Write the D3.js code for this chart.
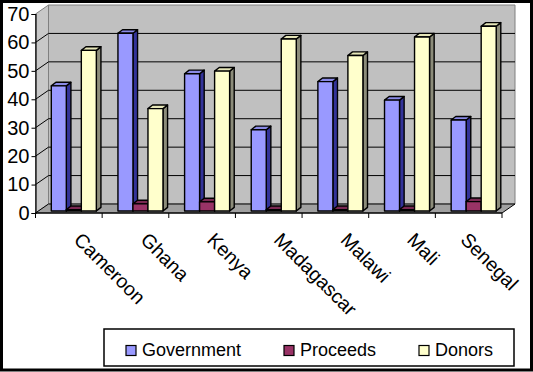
<!DOCTYPE html>
<html>
<head>
<meta charset="utf-8">
<script src="https://cdn.jsdelivr.net/npm/d3@7"></script>
<style>
  body { margin: 0; background: #ffffff; }
  svg { display: block; font-family: "Liberation Sans", Arial, sans-serif; }
</style>
</head>
<body>
<div id="chart"></div>
<script>
const countries = ["Cameroon", "Ghana", "Kenya", "Madagascar", "Malawi", "Mali", "Senegal"];
const seriesNames = ["Government", "Proceeds", "Donors"];
const government = [44, 62.5, 48.3, 28.6, 45.5, 39, 32];
const proceeds = [0.5, 2.5, 3.2, 0.5, 0.5, 0.5, 3.3];
const donors = [56.5, 36, 49.2, 60.5, 54.7, 61.2, 65];
const yTicks = [0, 10, 20, 30, 40, 50, 60, 70];

// face colours per series: front, top, side
const faceColors = {
    Government: ["#9999ff", "#8a8ae6", "#333399"],
    Proceeds: ["#993366", "#7a2952", "#4d1a33"],
    Donors: ["#ffffcc", "#e6e6b8", "#8c8c7a"]
};

const width = 533, height = 372;
const depthX = 13, depthY = -9;     // wall depth
const barDx = 5, barDy = -2;        // where bars sit inside the depth
const sideDx = 4.6, sideDy = -3.6;  // bar thickness

const svg = d3.select("#chart")
    .append("svg")
    .attr("width", width)
    .attr("height", height);

svg.append("rect")
    .attr("x", 1.5).attr("y", 1.5)
    .attr("width", width - 3).attr("height", height - 3.5)
    .attr("fill", "#ffffff")
    .attr("stroke", "#000000")
    .attr("stroke-width", 3);

const x = d3.scaleBand()
    .domain(countries)
    .range([35.5, 502])
    .paddingInner(0)
    .paddingOuter(0);

const xSub = d3.scaleBand()
    .domain(seriesNames)
    .range([0, x.bandwidth()])
    .paddingInner(0)
    .paddingOuter(0.72);

const y = d3.scaleLinear()
    .domain([0, 70])
    .range([213, 14]);

const x0 = x.range()[0], x1 = x.range()[1];
const yTop = y(70), yBot = y(0);

// walls and floor
const walls = svg.append("g");
walls.append("polygon")
    .attr("points", [[x0, yBot], [x0, yTop], [x0 + depthX, yTop + depthY], [x0 + depthX, yBot + depthY]].join(" "))
    .attr("fill", "#c8c8c8")
    .attr("stroke", "#808080");
walls.append("polygon")
    .attr("points", [[x0 + depthX, yTop + depthY], [x1 + depthX, yTop + depthY], [x1 + depthX, yBot + depthY], [x0 + depthX, yBot + depthY]].join(" "))
    .attr("fill", "#c0c0c0")
    .attr("stroke", "#808080");
walls.append("polygon")
    .attr("points", [[x0, yBot], [x0 + depthX, yBot + depthY], [x1 + depthX, yBot + depthY], [x1, yBot]].join(" "))
    .attr("fill", "#a0a0a0")
    .attr("stroke", "#000000")
    .attr("stroke-width", 1);

// gridlines on side and back wall
const grid = svg.append("g")
    .selectAll("g")
    .data(yTicks.filter(d => d > 0 && d < 70))
    .enter()
    .append("g");
grid.append("line")
    .attr("x1", x0).attr("y1", d => y(d))
    .attr("x2", x0 + depthX).attr("y2", d => y(d) + depthY)
    .attr("stroke", "#000000");
grid.append("line")
    .attr("x1", x0 + depthX).attr("y1", d => y(d) + depthY)
    .attr("x2", x1 + depthX).attr("y2", d => y(d) + depthY)
    .attr("stroke", "#000000");

// bars
const barData = [];
countries.forEach(function(c, i) {
    barData.push({country: c, series: "Government", value: government[i]});
    barData.push({country: c, series: "Proceeds", value: proceeds[i]});
    barData.push({country: c, series: "Donors", value: donors[i]});
});

const bars = svg.append("g")
    .selectAll("g")
    .data(barData)
    .enter()
    .append("g")
    .attr("stroke", "#000000")
    .attr("stroke-width", 1.4)
    .attr("stroke-linejoin", "round");

const bx = d => x(d.country) + xSub(d.series) + barDx;
const bw = xSub.bandwidth();
const bTop = d => y(d.value) + barDy;
const bBot = y(0) + barDy;

bars.append("polygon")
    .attr("points", d => [[bx(d) + bw, bTop(d)], [bx(d) + bw + sideDx, bTop(d) + sideDy], [bx(d) + bw + sideDx, bBot + sideDy], [bx(d) + bw, bBot]].join(" "))
    .attr("fill", d => faceColors[d.series][2]);
bars.append("polygon")
    .attr("points", d => [[bx(d), bTop(d)], [bx(d) + sideDx, bTop(d) + sideDy], [bx(d) + bw + sideDx, bTop(d) + sideDy], [bx(d) + bw, bTop(d)]].join(" "))
    .attr("fill", d => faceColors[d.series][1]);
bars.append("rect")
    .attr("x", bx)
    .attr("y", bTop)
    .attr("width", bw)
    .attr("height", d => bBot - bTop(d))
    .attr("fill", d => faceColors[d.series][0]);

// y axis
const yAxis = svg.append("g")
    .attr("transform", `translate(${x0},0)`)
    .call(d3.axisLeft(y).tickValues(yTicks).tickSize(4).tickPadding(2));
yAxis.select(".domain").attr("stroke", "#000000").attr("stroke-width", 1.2);
yAxis.selectAll("line").attr("stroke", "#000000");
yAxis.selectAll("text")
    .attr("font-size", 20)
    .attr("font-family", "Liberation Sans, Arial, sans-serif")
    .attr("fill", "#000000");

// x axis
const xAxis = svg.append("g")
    .attr("transform", `translate(0,${yBot})`);
xAxis.append("line")
    .attr("x1", x0).attr("x2", x1)
    .attr("stroke", "#000000").attr("stroke-width", 1.2);
xAxis.selectAll(".tick")
    .data(countries.concat(["end"]))
    .enter()
    .append("line")
    .attr("x1", (d, i) => x0 + i * x.step())
    .attr("x2", (d, i) => x0 + i * x.step())
    .attr("y1", 0).attr("y2", 5)
    .attr("stroke", "#000000");

const labels = svg.append("g")
    .selectAll("text")
    .data(countries)
    .enter()
    .append("text")
    .attr("font-size", 19.5)
    .attr("fill", "#000000")
    .text(d => d);

labels.each(function(d) {
    const len = this.getComputedTextLength();
    let lx = x(d) + x.bandwidth() / 2 + 4;
    const maxEnd = 510;
    if (lx + len * Math.SQRT1_2 > maxEnd) lx = maxEnd - len * Math.SQRT1_2;
    d3.select(this).attr("transform", `translate(${lx},241) rotate(45)`);
});

// legend
const legend = svg.append("g");
legend.append("rect")
    .attr("x", 104).attr("y", 329)
    .attr("width", 410).attr("height", 37)
    .attr("fill", "#ffffff")
    .attr("stroke", "#000000")
    .attr("stroke-width", 1.5);

const legendX = d3.scalePoint()
    .domain(seriesNames)
    .range([126, 419]);
const legendShift = {Government: 0, Proceeds: 11.5, Donors: 0};

const items = legend.selectAll("g.item")
    .data(seriesNames)
    .enter()
    .append("g")
    .attr("class", "item")
    .attr("transform", d => `translate(${legendX(d) + legendShift[d]},0)`);
items.append("rect")
    .attr("x", 0).attr("y", 345.5)
    .attr("width", 10).attr("height", 10)
    .attr("fill", d => faceColors[d][0])
    .attr("stroke", "#000000")
    .attr("stroke-width", 1.2);
items.append("text")
    .attr("x", 16).attr("y", 356)
    .attr("font-size", 18)
    .attr("fill", "#000000")
    .text(d => d);
</script>
</body>
</html>
